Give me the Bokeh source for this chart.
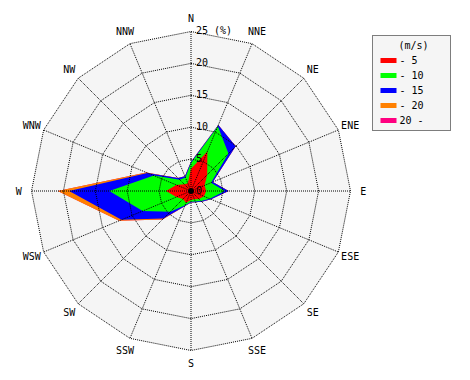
import numpy as np
from bokeh.plotting import figure
from bokeh.models import Range1d
from bokeh.core.properties import value
from bokeh.embed import file_html
from bokeh.resources import INLINE

# ---- data -------------------------------------------------------------
directions = ["N", "NNE", "NE", "ENE", "E", "ESE", "SE", "SSE",
              "S", "SSW", "SW", "WSW", "W", "WNW", "NW", "NNW"]
speed_labels = ["- 5", "- 10", "- 15", "- 20", "20 -"]
speed_colors = ["#ff0000", "#00ff00", "#0000ff", "#ff8000", "#ff0080"]
ring_values = [0, 5, 10, 15, 20, 25]
ring_labels = ["0", "5", "10", "15", "20", "25 (%)"]

# frequency (%) per direction for each speed class (not cumulative)
freq_0_5   = [3.5, 6.7, 3.6, 2.3, 2.4, 2.2, 1.8, 1.4, 1.4, 2.0, 1.8, 2.5, 3.9, 2.5, 1.5, 1.3]
freq_5_10  = [0.9, 4.3, 4.7, 1.1, 2.9, 1.0, 0.4, 0.4, 0.3, 0.4, 2.8, 5.7, 8.9, 3.8, 1.0, 1.0]
freq_10_15 = [0.2, 0.2, 1.6, 0.3, 0.6, 0.2, 0.2, 0.1, 0.1, 0.2, 1.5, 3.6, 6.3, 1.1, 0.4, 0.2]
freq_15_20 = [0.0, 0.0, 0.0, 0.0, 0.0, 0.0, 0.0, 0.0, 0.0, 0.0, 0.2, 0.4, 1.8, 0.2, 0.0, 0.0]
freq_20_up = [0.0, 0.0, 0.0, 0.0, 0.0, 0.0, 0.0, 0.0, 0.0, 0.0, 0.0, 0.0, 0.0, 0.0, 0.0, 0.0]

classes = [freq_0_5, freq_5_10, freq_10_15, freq_15_20, freq_20_up]

# ---- layout -----------------------------------------------------------
W, H = 462, 372
CX, CY = 190.5, 190.5      # centre of the rose in canvas pixels
S = 6.38                   # pixels per percent
R_MAX = 25
R_LABEL = 27

x0 = -CX / S
x1 = (W - CX) / S
y1 = CY / S
y0 = -(H - CY) / S


def px(xp):
    return x0 + xp / S


def py(yp):
    return y1 - yp / S


p = figure(width=W, height=H, x_range=Range1d(x0, x1), y_range=Range1d(y0, y1),
           x_axis_type=None, y_axis_type=None, output_backend="svg",
           toolbar_location=None, min_border=0)
p.grid.visible = False
p.outline_line_color = None
p.background_fill_color = "white"
p.border_fill_color = "white"

n = len(directions)
theta = np.deg2rad(np.arange(n) * 360.0 / n)
sin_t, cos_t = np.sin(theta), np.cos(theta)

def ring(r):
    xs = list(r * sin_t) + [r * sin_t[0]]
    ys = list(r * cos_t) + [r * cos_t[0]]
    return xs, ys

# background polygon
bx, by = ring(R_MAX)
p.patch(bx, by, fill_color="#f5f5f5", line_color=None)

# stacked rose polygons (largest first)
cum = np.cumsum(np.array(classes), axis=0)
for k in range(len(classes) - 1, -1, -1):
    r = cum[k]
    xs = list(r * sin_t)
    ys = list(r * cos_t)
    p.patch(xs, ys, fill_color=speed_colors[k], line_color=None)

# rings and spokes
dash = "1 1"
for rv in ring_values[1:]:
    xs, ys = ring(rv)
    p.line(xs, ys, line_color="black", line_dash=dash, line_width=1)
p.segment(x0=[0] * n, y0=[0] * n, x1=list(R_MAX * sin_t), y1=list(R_MAX * cos_t),
          line_color="black", line_dash=dash, line_width=1)

p.scatter([0], [0], size=5, color="black")

mono = value("DejaVu Sans Mono")

# direction labels
p.text(x=list(R_LABEL * sin_t), y=list(R_LABEL * cos_t), text=directions,
       text_font=mono, text_font_size="10px", text_color="black",
       text_align="center", text_baseline="middle")

# ring labels
p.text(x=[0] * len(ring_values), y=ring_values, text=ring_labels,
       text_font=mono, text_font_size="10px", text_color="black",
       text_align="left", text_baseline="alphabetic", x_offset=5, y_offset=-1)

# legend
p.quad(left=[px(372)], right=[px(450)], top=[py(35)], bottom=[py(130)],
       fill_color="#f5f5f5", line_color="black", line_dash=dash, line_width=1)
p.text(x=[px(413)], y=[py(45)], text=["(m/s)"], text_font=mono,
       text_font_size="10px", text_align="center", text_baseline="middle")
ys_leg = [py(60 + 15 * i) for i in range(len(speed_labels))]
p.rect(x=[px(388)] * len(speed_labels), y=ys_leg, width=16, height=5,
       width_units="screen", height_units="screen",
       fill_color=speed_colors, line_color=None)
p.text(x=[px(399)] * len(speed_labels), y=ys_leg, text=speed_labels,
       text_font=mono, text_font_size="10px", text_align="left",
       text_baseline="middle")

open("out.html", "w").write(file_html(p, INLINE))
